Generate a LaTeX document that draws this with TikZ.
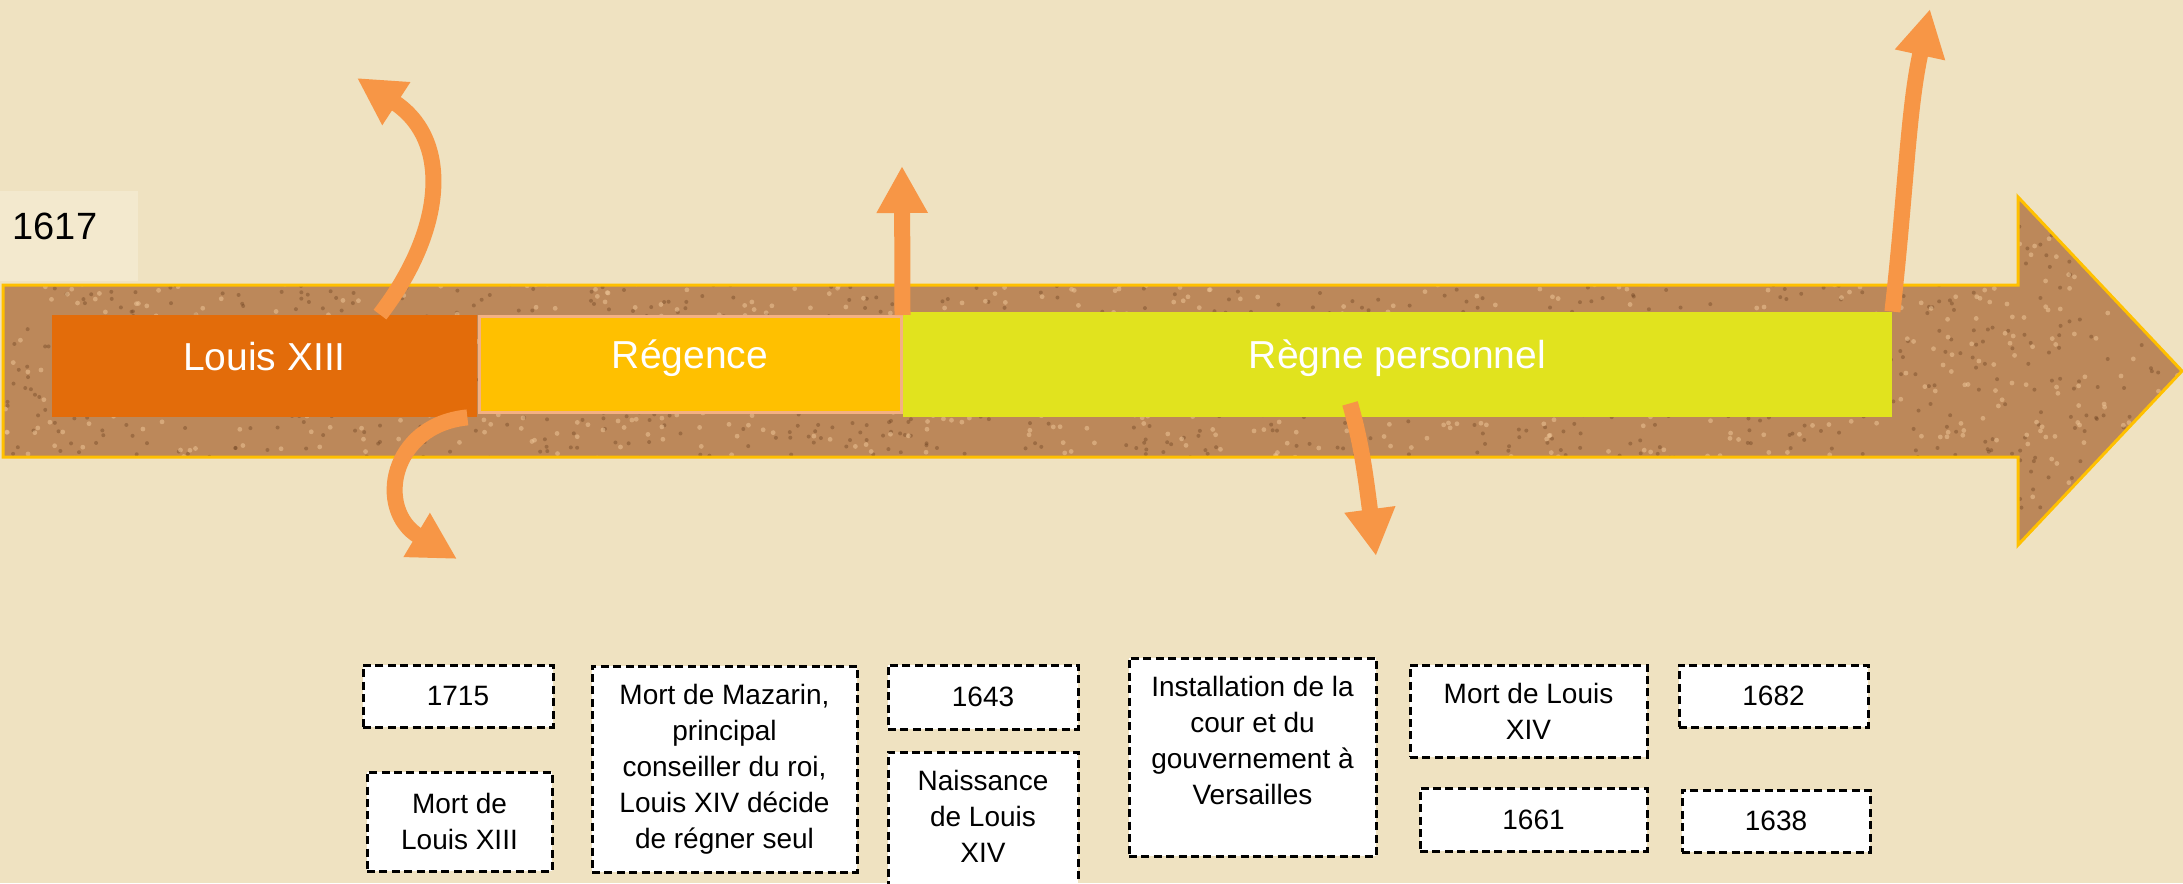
\documentclass[tikz,border=0pt]{standalone}
\usepackage{fontspec}
\setmainfont{Liberation Sans}
\usetikzlibrary{arrows.meta}
\definecolor{bgc}{RGB}{239,226,193}
\definecolor{bglight}{RGB}{243,233,206}
\definecolor{cork}{RGB}{188,136,90}
\definecolor{corkdark}{RGB}{110,66,34}
\definecolor{corklight}{RGB}{236,196,150}
\definecolor{gold}{RGB}{255,192,0}
\definecolor{louis}{RGB}{227,108,10}
\definecolor{regence}{RGB}{255,192,0}
\definecolor{regne}{RGB}{225,227,30}
\definecolor{arr}{RGB}{247,150,70}
\definecolor{salmon}{RGB}{244,177,131}
\begin{document}
\begin{tikzpicture}[x=0.5pt,y=-0.5pt,
  period/.style={inner sep=0, text=white, font=\fontsize{19.5}{23}\selectfont,
    text height=14pt, text depth=10pt},
  dbox/.style={draw=black, dash pattern=on 4pt off 2.2pt, line width=1.5pt,
    fill=white, inner sep=0, align=center, font=\fontsize{14}{18}\selectfont},
  btext/.style={inner sep=0, align=center, font=\fontsize{14}{18}\selectfont},
  oarrow/.style={draw=arr, line width=8pt, -{Triangle[length=23.5pt,width=24pt]}}
]
\useasboundingbox (0,0) rectangle (2183,883);
\clip (0,0) rectangle (2183,883);
\fill[bgc] (0,0) rectangle (2183,883);
\fill[bglight] (0,191) rectangle (138,281);
\node[inner sep=0, text=black, font=\fontsize{19}{23}\selectfont] (y1617) at (55,226) {1617};

% timeline band (big arrow)
\fill[cork] (3,285) -- (2018,285) -- (2018,197) -- (2182,371) -- (2018,545)
  -- (2018,457) -- (3,457) -- cycle;
\begin{scope}
  \clip (3,285) -- (2018,285) -- (2018,197) -- (2182,371) -- (2018,545)
    -- (2018,457) -- (3,457) -- cycle;
  \pgfmathsetseed{7}
  \foreach \i in {1,...,1800}{
    \pgfmathsetmacro{\xx}{3+2180*rnd}
    \pgfmathsetmacro{\yy}{197+348*rnd}
    \fill[corkdark, opacity=0.4] (\xx,\yy) circle (1pt);
  }
  \foreach \i in {1,...,1400}{
    \pgfmathsetmacro{\xx}{3+2180*rnd}
    \pgfmathsetmacro{\yy}{197+348*rnd}
    \fill[corklight, opacity=0.55] (\xx,\yy) circle (1.2pt);
  }
\end{scope}
\draw[gold, line width=1.5pt] (3,285) -- (2018,285) -- (2018,197) -- (2182,371)
  -- (2018,545) -- (2018,457) -- (3,457) -- cycle;

% periods
\node[period, fill=louis, minimum width=212.5pt, minimum height=51pt] (louis) at (264.5,366) {Louis XIII};
\node[period, fill=regence, draw=salmon, line width=1.5pt, minimum width=211pt, minimum height=48pt] (regence) at (690,364.5) {Régence};
\node[period, fill=regne, minimum width=494.5pt, minimum height=52.5pt] (regne) at (1397.5,364.5) {Règne personnel};

% orange arrows
\coordinate (t1) at (357,78);
\coordinate (t2) at (457,559);
\coordinate (t3) at (902,166);
\coordinate (t4) at (1930,9);
\coordinate (t5) at (1376,556);
\draw[oarrow] ([xshift=57.75pt]louis.north) .. controls (445,230) and (452,140) .. (t1);
\draw[oarrow] ([xshift=-5pt]louis.south east) .. controls (390,425) and (375,510) .. (t2);
\draw[oarrow] (regence.north east) -- (t3);
\draw[oarrow] (regne.north east) .. controls (1906,190) and (1908,110) .. (t4);
\draw[oarrow] ([xshift=-23.75pt,yshift=7pt]regne.south) .. controls (1362,445) and (1366,480) .. (t5);

% event / date cards
\node[dbox, minimum width=95pt, minimum height=31pt] (b1715) at (458,696) {1715};
\node[dbox, minimum width=92.5pt, minimum height=49.5pt] (bml13) at (459.5,821.5) {Mort de\\Louis XIII};
\node[dbox, minimum width=132.5pt, minimum height=103pt] (bmaz) at (724.5,769) {Mort de Mazarin,\\principal\\conseiller du roi,\\Louis XIV décide\\de régner seul};
\node[dbox, minimum width=95pt, minimum height=32pt] (b1643) at (983,697) {1643};
\node[dbox, minimum width=95pt, minimum height=74pt] (bnais) at (983,826) {};
\node[btext] (tnais) at (983,816) {Naissance\\de Louis\\XIV};
\node[dbox, minimum width=123.5pt, minimum height=99pt] (binst) at (1252.5,757) {};
\node[btext] (tinst) at (1252.5,740) {Installation de la\\cour et du\\gouvernement à\\Versailles};
\node[dbox, minimum width=118.5pt, minimum height=46pt] (bml14) at (1528.5,711) {Mort de Louis\\XIV};
\node[dbox, minimum width=94.5pt, minimum height=31pt] (b1682) at (1773.5,696) {1682};
\node[dbox, minimum width=113.5pt, minimum height=31.5pt] (b1661) at (1533.5,819.5) {1661};
\node[dbox, minimum width=94pt, minimum height=31pt] (b1638) at (1776,821) {1638};
\end{tikzpicture}
\end{document}
